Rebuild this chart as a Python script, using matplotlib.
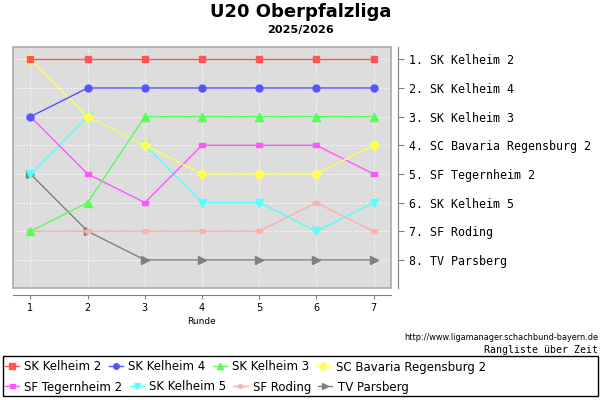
import numpy as np
import matplotlib
matplotlib.use('Agg')
from matplotlib import pyplot as plt
from matplotlib.path import Path
from matplotlib.transforms import Affine2D
from matplotlib.patches import Rectangle

# ranking per round
runden = [1, 2, 3, 4, 5, 6, 7]
teams = ["SK Kelheim 2", "SK Kelheim 4", "SK Kelheim 3", "SC Bavaria Regensburg 2",
         "SF Tegernheim 2", "SK Kelheim 5", "SF Roding", "TV Parsberg"]
sk_kelheim_2 = [1, 1, 1, 1, 1, 1, 1]
sk_kelheim_4 = [3, 2, 2, 2, 2, 2, 2]
sk_kelheim_3 = [7, 6, 3, 3, 3, 3, 3]
sc_bavaria_2 = [1, 3, 4, 5, 5, 5, 4]
sf_tegernheim_2 = [3, 5, 6, 4, 4, 4, 5]
sk_kelheim_5 = [5, 3, 4, 6, 6, 7, 6]
sf_roding = [7, 7, 7, 7, 7, 6, 7]
tv_parsberg = [5, 7, 8, 8, 8, 8, 8]
final_ranks = [1, 2, 3, 4, 5, 6, 7, 8]
final_labels = ["1. SK Kelheim 2", "2. SK Kelheim 4", "3. SK Kelheim 3",
                "4. SC Bavaria Regensburg 2", "5. SF Tegernheim 2", "6. SK Kelheim 5",
                "7. SF Roding", "8. TV Parsberg"]

series = [sk_kelheim_2, sk_kelheim_4, sk_kelheim_3, sc_bavaria_2,
          sf_tegernheim_2, sk_kelheim_5, sf_roding, tv_parsberg]
colors = ['#FF5555', '#5555FF', '#55FF55', '#FFFF55',
          '#FF55FF', '#55FFFF', '#FFAFAF', '#808080']
hrect = Path([(-1.5, -1), (1.5, -1), (1.5, 1), (-1.5, 1), (-1.5, -1)],
             [Path.MOVETO, Path.LINETO, Path.LINETO, Path.LINETO, Path.CLOSEPOLY])
hell = Path.unit_circle().transformed(Affine2D().scale(1.5, 1.0))
markers = ['s', 'o', '^', 'D', hrect, 'v', hell, '>']
msizes = [5, 5, 5.5, 5, 4.5, 5.5, 4.5, 5.5]

W, H = 600, 400
fig = plt.figure(figsize=(6, 4), dpi=100)
ax = fig.add_axes([13.3 / W, 1 - 288 / H, (390.7 - 13.3) / W, (288 - 47.3) / H])
ax.set_facecolor('#DDDDDD')

lines = []
for i in range(len(teams)):
    l, = ax.plot(runden, series[i], color=colors[i], marker=markers[i], markersize=msizes[i],
                 linewidth=1.0, zorder=10 - i, label=teams[i], clip_on=False)
    lines.append(l)

ax.set_xlim(0.7, 7.3)
ax.set_ylim(8.98, 0.58)
ax.set_xticks(runden)
ax.set_yticks(final_ranks)
ax.yaxis.tick_right()
ax.set_yticklabels(final_labels)
ax.grid(True, color='white', linestyle=(0, (2, 2)), linewidth=0.6)
ax.set_axisbelow(True)

ax.spines['top'].set_visible(False)
ax.spines['left'].set_visible(False)
ax.spines['bottom'].set_position(('outward', 5))
ax.spines['right'].set_position(('outward', 5))
ax.spines['bottom'].set_color('#808080')
ax.spines['right'].set_color('#808080')
ax.tick_params(axis='x', colors='#808080', labelcolor='black', length=3, labelsize=7, pad=3)
ax.tick_params(axis='y', colors='#808080', labelcolor='black', length=4, pad=4, labelsize=8.4)
for t in ax.yaxis.get_major_ticks():
    t.label2.set_fontfamily('DejaVu Sans Mono')
ax.add_patch(Rectangle((0, 0), 1, 1, transform=ax.transAxes, fill=False,
                       edgecolor='#AAAAAA', linewidth=1.2, clip_on=False, zorder=20))
ax.set_xlabel('Runde', fontsize=6.5, labelpad=3)

fig.text(301 / W, 1 - 12 / H, 'U20 Oberpfalzliga', ha='center', va='center',
         fontsize=13, fontweight='bold')
fig.text(301 / W, 1 - 30 / H, '2025/2026', ha='center', va='center',
         fontsize=8.1, fontweight='bold')
fig.text(598 / W, 1 - 338 / H, 'http://www.ligamanager.schachbund-bayern.de', ha='right',
         va='center', fontsize=5.9, family='DejaVu Sans Condensed')
fig.text(598 / W, 1 - 350 / H, 'Rangliste über Zeit', ha='right', va='center',
         fontsize=7.1, family='DejaVu Sans Mono')

fig.patches.append(Rectangle((3 / W, 1 - 396 / H), 595 / W, 40 / H, transform=fig.transFigure,
                             fill=False, edgecolor='black', linewidth=1.0))
leg_kw = dict(loc='center left', frameon=False, ncol=4, fontsize=8.5, borderpad=0,
              borderaxespad=0, handlelength=1.2, handletextpad=0.45, columnspacing=0.6,
              markerscale=0.8)
leg1 = fig.legend(handles=lines[:4], bbox_to_anchor=(5 / W, 1 - 367 / H), **leg_kw)
leg2 = fig.legend(handles=lines[4:], bbox_to_anchor=(5 / W, 1 - 387 / H), **leg_kw)

fig.savefig('out.png', dpi=100)
